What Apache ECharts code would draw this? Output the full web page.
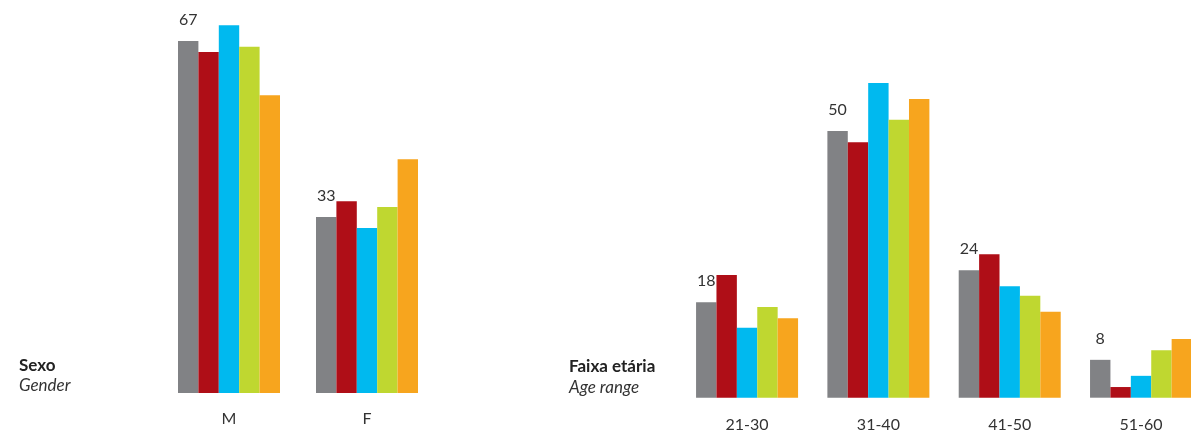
<!DOCTYPE html>
<html>
<head>
<meta charset="utf-8">
<script src="https://cdn.jsdelivr.net/npm/echarts@6/dist/echarts.min.js"></script>
<style>
  html, body { margin: 0; padding: 0; background: #fff; overflow: hidden; }
  #chart { width: 1230px; height: 435px; }
</style>
</head>
<body>
<div id="chart"></div>
<script>
// ---- Data ----
const genderCategories = ['M', 'F'];
const ageCategories = ['21-30', '31-40', '41-50', '51-60'];

const genderS1 = [67, 33.5];
const genderS2 = [64.9, 36.5];
const genderS3 = [70, 31.4];
const genderS4 = [65.9, 35.4];
const genderS5 = [56.7, 44.5];
const genderS1Labels = ['67', '33'];

const ageS1 = [17.9, 50, 23.9, 7.1];
const ageS2 = [23, 47.9, 26.9, 2];
const ageS3 = [13.1, 59, 20.9, 4.1];
const ageS4 = [17, 52.1, 19.1, 8.9];
const ageS5 = [14.9, 56, 16.1, 11];
const ageS1Labels = ['18', '50', '24', '8'];

const colors = ['#818285', '#AF0E17', '#00B9EF', '#BFD730', '#F7A51E'];
const FONT = 'Lato, "Open Sans", sans-serif';

// ---- Chart ----
const chart = echarts.init(document.getElementById('chart'), null, { renderer: 'canvas' });

function bar(data, gi, ci, labels) {
  const s = {
    type: 'bar',
    xAxisIndex: gi,
    yAxisIndex: gi,
    data: data,
    barWidth: 20.4,
    barGap: '0%',
    itemStyle: { color: colors[ci] },
    silent: true,
    animation: false
  };
  if (labels) {
    s.label = {
      show: true,
      position: 'top',
      distance: 13,
      color: '#333',
      fontFamily: FONT,
      fontSize: 16,
      formatter: p => labels[p.dataIndex]
    };
  }
  return s;
}

const axisCommon = {
  type: 'category',
  axisLine: { show: false },
  axisTick: { show: false },
  axisLabel: { color: '#333', fontFamily: FONT, fontSize: 16 }
};
const yCommon = {
  type: 'value',
  min: 0,
  show: false,
  splitLine: { show: false }
};

chart.setOption({
  animation: false,
  grid: [
    { left: 160, top: 20, width: 276, height: 373 },
    { left: 681.4, top: 20, width: 525.3, height: 377.7 }
  ],
  xAxis: [
    Object.assign({}, axisCommon, { gridIndex: 0, data: genderCategories,
      axisLabel: Object.assign({}, axisCommon.axisLabel, { margin: 18 }) }),
    Object.assign({}, axisCommon, { gridIndex: 1, data: ageCategories,
      axisLabel: Object.assign({}, axisCommon.axisLabel, { margin: 19 }) })
  ],
  yAxis: [
    Object.assign({}, yCommon, { gridIndex: 0, max: 71 }),
    Object.assign({}, yCommon, { gridIndex: 1, max: 70.82 })
  ],
  graphic: [
    { type: 'text', left: 19, top: 357, style: { text: 'Sexo', font: 'bold 17px ' + FONT, fill: '#222' } },
    { type: 'text', left: 19, top: 377, style: { text: 'Gender', font: 'italic 17px ' + FONT, fill: '#333' } },
    { type: 'text', left: 569, top: 358, style: { text: 'Faixa etária', font: 'bold 17px ' + FONT, fill: '#222' } },
    { type: 'text', left: 569, top: 379, style: { text: 'Age range', font: 'italic 17px ' + FONT, fill: '#333' } }
  ],
  series: [
    bar(genderS1, 0, 0, genderS1Labels),
    bar(genderS2, 0, 1),
    bar(genderS3, 0, 2),
    bar(genderS4, 0, 3),
    bar(genderS5, 0, 4),
    bar(ageS1, 1, 0, ageS1Labels),
    bar(ageS2, 1, 1),
    bar(ageS3, 1, 2),
    bar(ageS4, 1, 3),
    bar(ageS5, 1, 4)
  ]
});
</script>
</body>
</html>
